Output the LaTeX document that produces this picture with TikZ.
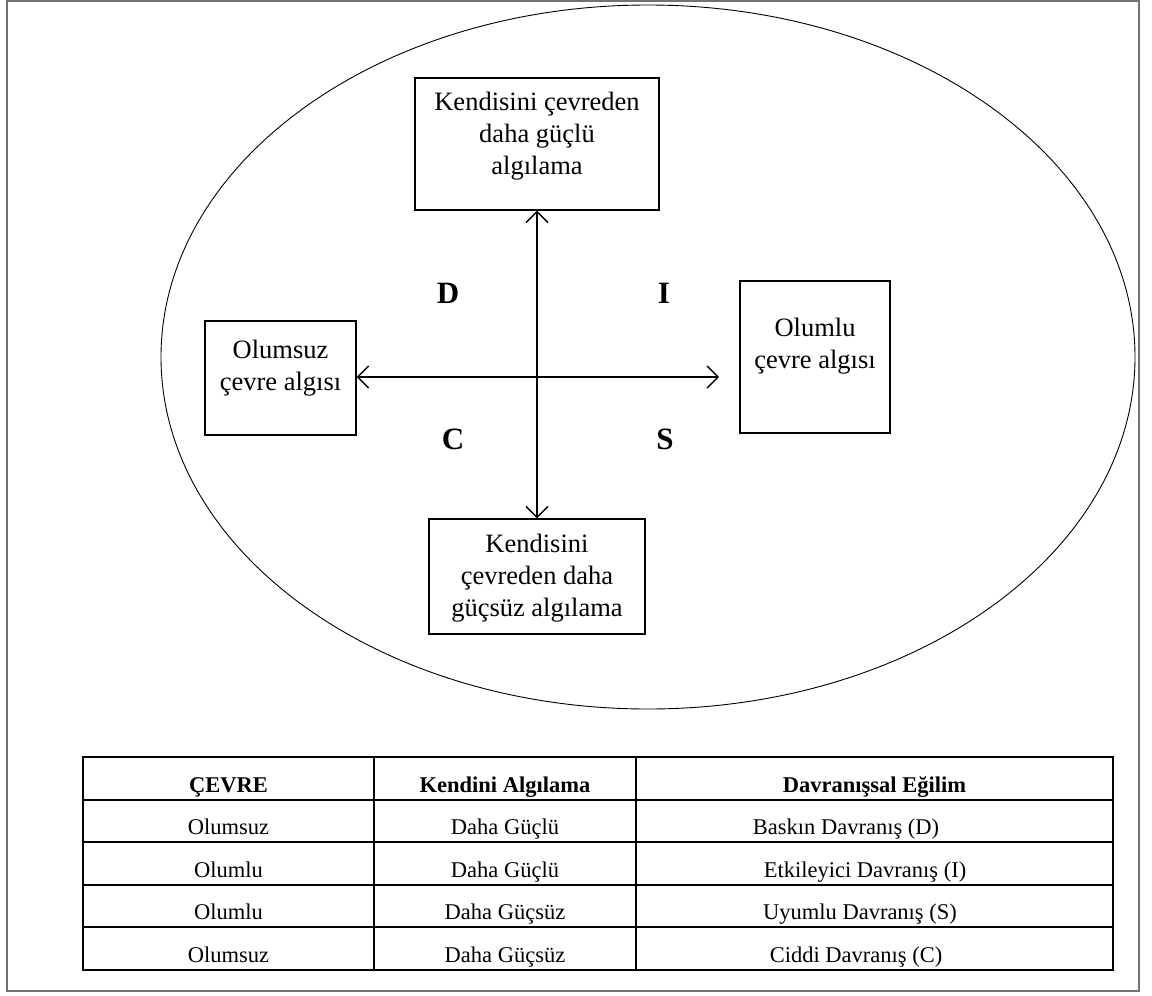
\documentclass[tikz,border=0pt]{standalone}
\usepackage{fontspec}
\setmainfont{Liberation Serif}
\usetikzlibrary{arrows.meta}
\begin{document}
\begin{tikzpicture}[x=1pt,y=-1pt,
  frame/.style={draw=black!55,line width=1.6pt},
  oval/.style={draw,line width=0.9pt},
  box/.style={draw,line width=1.2pt,rectangle,inner sep=0pt},
  boxtext/.style={align=center,font=\fontsize{26.5}{32}\selectfont,inner sep=0pt},
  quad/.style={font=\fontsize{31}{36}\selectfont\bfseries,inner sep=0pt},
  axis/.style={line width=1.4pt,{Straight Barb[length=11pt,width=22pt,line width=1.4pt]}-{Straight Barb[length=11pt,width=22pt,line width=1.4pt]}},
  rule/.style={line width=1.8pt},
  cell/.style={font=\fontsize{22.5}{27}\selectfont,inner sep=0pt,anchor=base},
  head/.style={cell,font=\fontsize{22.5}{27}\selectfont\bfseries}]
\useasboundingbox (0,0) rectangle (1152,996);
% outer frame and surrounding oval
\draw[frame] (7,1) rectangle (1139,991);
\draw[oval] (648,357) ellipse [x radius=487, y radius=352];

% the four perception boxes
\node[box,minimum width=244,minimum height=132] (top) at (537,144) {};
\node[boxtext] (toptext) at (537,136) {Kendisini çevreden\\daha güçlü\\algılama};
\node[box,minimum width=151,minimum height=114] (left) at (280.5,378) {};
\node[boxtext] (lefttext) at (280.5,368) {Olumsuz\\çevre algısı};
\node[box,minimum width=150,minimum height=152] (right) at (815,357) {};
\node[boxtext] (righttext) at (815,346) {Olumlu\\çevre algısı};
\node[box,minimum width=216,minimum height=115] (bottom) at (537,576.5) {};
\node[boxtext] (bottomtext) at (537,578) {Kendisini\\çevreden daha\\güçsüz algılama};

% axes
\coordinate (rightend) at (719,377);
\coordinate (leftend) at (left.east |- rightend);
\draw[axis] (top.south) -- (bottom.north);
\draw[axis] (leftend) -- (rightend);

% quadrant letters
\node[quad] (qd) at (448,293) {D};
\node[quad] (qi) at (664,293) {I};
\node[quad] (qc) at (453,439) {C};
\node[quad] (qs) at (665,439) {S};

% summary table: five equal rows
\draw[rule] (83,757) rectangle (1113,970);
\foreach \yy in {800,842,885,927} \draw[rule] (83,\yy) -- (1113,\yy);
\foreach \xx in {374,636} \draw[rule] (\xx,757) -- (\xx,970);

\node[head] (h1) at (228.5,792) {ÇEVRE};
\node[head] (h2) at (505,792) {Kendini Algılama};
\node[head] (h3) at (874.5,792) {Davranışsal Eğilim};

\node[cell] (a1) at (228.5,834.5) {Olumsuz};
\node[cell] (b1) at (505,834.5) {Daha Güçlü};
\node[cell] (c1) at (846,834.5) {Baskın Davranış (D)};
\node[cell] (a2) at (228.5,877) {Olumlu};
\node[cell] (b2) at (505,877) {Daha Güçlü};
\node[cell] (c2) at (865,877) {Etkileyici Davranış (I)};
\node[cell] (a3) at (228.5,919.5) {Olumlu};
\node[cell] (b3) at (505,919.5) {Daha Güçsüz};
\node[cell] (c3) at (860,919.5) {Uyumlu Davranış (S)};
\node[cell] (a4) at (228.5,962) {Olumsuz};
\node[cell] (b4) at (505,962) {Daha Güçsüz};
\node[cell] (c4) at (856,962) {Ciddi Davranış (C)};
\end{tikzpicture}
\end{document}
